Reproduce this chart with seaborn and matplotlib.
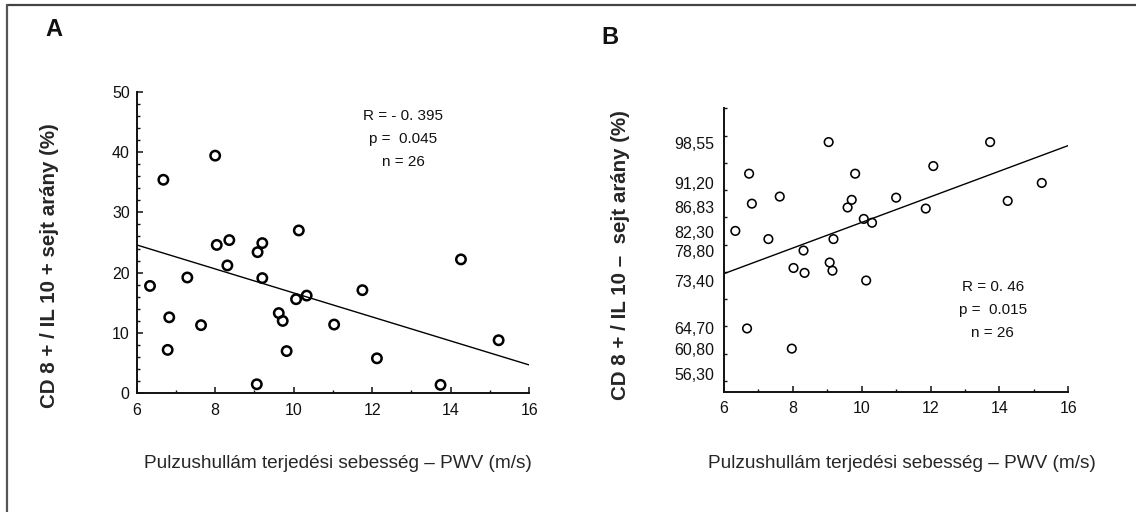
import matplotlib
matplotlib.use("Agg")
import matplotlib.pyplot as plt
from matplotlib.lines import Line2D
from matplotlib.ticker import MultipleLocator
import numpy as np
import seaborn as sns
import pandas as pd

# Panel A: CD8+/IL10+ cell ratio (%) against pulse wave velocity
pwv_a = [6.34, 6.68, 6.83, 6.79, 7.29, 7.64, 8.00, 8.04, 8.36, 8.31, 9.08, 9.20, 9.20,
         9.06, 9.62, 9.72, 9.82, 10.13, 10.06, 10.33, 11.03, 11.75, 12.12, 13.74, 14.26, 15.22]
il10_pos = [17.8, 35.4, 12.6, 7.2, 19.2, 11.3, 39.4, 24.6, 25.4, 21.2, 23.4, 24.9, 19.1,
            1.5, 13.3, 12.0, 7.0, 27.0, 15.6, 16.2, 11.4, 17.1, 5.8, 1.4, 22.2, 8.8]

# Panel B: CD8+/IL10- cell ratio (%) against pulse wave velocity
pwv_b = [6.33, 6.73, 6.81, 6.67, 7.29, 7.62, 7.97, 8.02, 8.31, 8.34, 9.04, 9.07, 9.15,
         9.18, 9.59, 9.71, 9.81, 10.06, 10.13, 10.30, 11.00, 11.86, 12.08, 13.73, 14.24, 15.23]
il10_neg = [82.5, 93.0, 87.5, 64.6, 81.0, 88.8, 60.9, 75.7, 78.9, 74.8, 98.8, 76.7, 75.2,
            81.0, 86.8, 88.2, 93.0, 84.7, 73.4, 84.0, 88.6, 86.6, 94.4, 98.8, 88.0, 91.3]

# Published linear fits (intercept, slope)
fit_a = (36.54, -1.99)
fit_b = (60.55, 2.351)

b_tick_values = [56.30, 60.80, 64.70, 73.40, 78.80, 82.30, 86.83, 91.20, 98.55]
b_tick_labels = ["56,30", "60,80", "64,70", "73,40", "78,80", "82,30", "86,83", "91,20", "98,55"]

x_range = (6, 16)
x_ticks = [6, 8, 10, 12, 14, 16]
a_y_range = (0, 50)
a_y_ticks = [0, 10, 20, 30, 40, 50]
b_y_range = (53, 105)

stats_a = ["R = - 0. 395", "p =  0.045", "n = 26"]
stats_b = ["R = 0. 46", "p =  0.015", "n = 26"]

x_label = "Pulzushullám terjedési sebesség – PWV (m/s)"
y_label_a = "CD 8 + / IL 10 + sejt arány (%)"
y_label_b = "CD 8 + / IL 10 –  sejt arány (%)"

sns.set_style("ticks")
plt.rcParams["font.family"] = ["Liberation Sans", "DejaVu Sans"]
plt.rcParams["text.color"] = "#111111"

df_a = pd.DataFrame({"pwv": pwv_a, "ratio": il10_pos})
df_b = pd.DataFrame({"pwv": pwv_b, "ratio": il10_neg})


def fit_frame(fit):
    xs = np.array(x_range, dtype=float)
    return pd.DataFrame({"pwv": xs, "ratio": fit[0] + fit[1] * xs})


fig = plt.figure(figsize=(11.36, 5.12), dpi=100)
ax_a = fig.add_axes([0.1203, 0.2318, 0.3456, 0.5891])
ax_b = fig.add_axes([0.6373, 0.2350, 0.3031, 0.5535])


def style_axes(ax):
    for side in ("top", "right"):
        ax.spines[side].set_visible(False)
    for side in ("left", "bottom"):
        ax.spines[side].set_linewidth(1.4)
        ax.spines[side].set_color("#111111")
    ax.tick_params(which="major", direction="in", length=4, width=1.1,
                   labelsize=11.5, colors="#111111")
    ax.tick_params(which="minor", direction="in", length=2.5, width=1.0,
                   colors="#111111")
    ax.tick_params(axis="x", which="major", pad=7)
    ax.xaxis.set_minor_locator(MultipleLocator(1))
    ax.grid(False)


# --- Panel A ---
sns.lineplot(data=fit_frame(fit_a), x="pwv", y="ratio", ax=ax_a,
             color="black", lw=1.0)
sns.scatterplot(data=df_a, x="pwv", y="ratio", ax=ax_a, marker="o", s=46,
                facecolor="none", edgecolor="black", linewidth=1.8, zorder=3)
ax_a.set_xlim(*x_range)
ax_a.set_ylim(*a_y_range)
style_axes(ax_a)
ax_a.set_xticks(x_ticks)
ax_a.set_yticks(a_y_ticks)
ax_a.yaxis.set_minor_locator(MultipleLocator(2))
ax_a.tick_params(axis="y", which="major", pad=5)
ax_a.set_xlabel(x_label, fontsize=13.7)
ax_a.set_ylabel(y_label_a, fontsize=14.8, fontweight="bold")
ax_a.xaxis.set_label_coords(0.513, -0.205)
ax_a.yaxis.set_label_coords(-0.198, 0.422)
for i, line in enumerate(stats_a):
    ax_a.text(12.79, 46.0 - i * 3.85, line, ha="center", va="center", fontsize=11)

# --- Panel B ---
sns.lineplot(data=fit_frame(fit_b), x="pwv", y="ratio", ax=ax_b,
             color="black", lw=1.0)
sns.scatterplot(data=df_b, x="pwv", y="ratio", ax=ax_b, marker="o", s=38,
                facecolor="none", edgecolor="black", linewidth=1.15, zorder=3)
ax_b.set_xlim(*x_range)
ax_b.set_ylim(*b_y_range)
style_axes(ax_b)
ax_b.set_xticks(x_ticks)
ax_b.set_yticks(b_tick_values, b_tick_labels)
ax_b.tick_params(axis="y", which="major", length=0, pad=7)
ax_b.yaxis.set_minor_locator(MultipleLocator(5))
ax_b.set_xlabel(x_label, fontsize=13.7)
ax_b.set_ylabel(y_label_b, fontsize=14.8, fontweight="bold")
ax_b.xaxis.set_label_coords(0.518, -0.224)
ax_b.yaxis.set_label_coords(-0.273, 0.482)
for i, line in enumerate(stats_b):
    ax_b.text(13.81, 72.15 - i * 4.2, line, ha="center", va="center", fontsize=11)

# Panel letters
fig.text(54 / 1136, 1 - 29 / 512, "A", ha="center", va="center",
         fontsize=17, fontweight="bold")
fig.text(610 / 1136, 1 - 37.5 / 512, "B", ha="center", va="center",
         fontsize=17, fontweight="bold")

# Frame lines along the top and left edges
fig.add_artist(Line2D([7 / 1136, 1.0], [1 - 5 / 512, 1 - 5 / 512],
                      transform=fig.transFigure, color="#444444", lw=1.6))
fig.add_artist(Line2D([7 / 1136, 7 / 1136], [0.0, 1 - 5 / 512],
                      transform=fig.transFigure, color="#555555", lw=1.6))

fig.savefig("out.png", dpi=100, facecolor="white")
